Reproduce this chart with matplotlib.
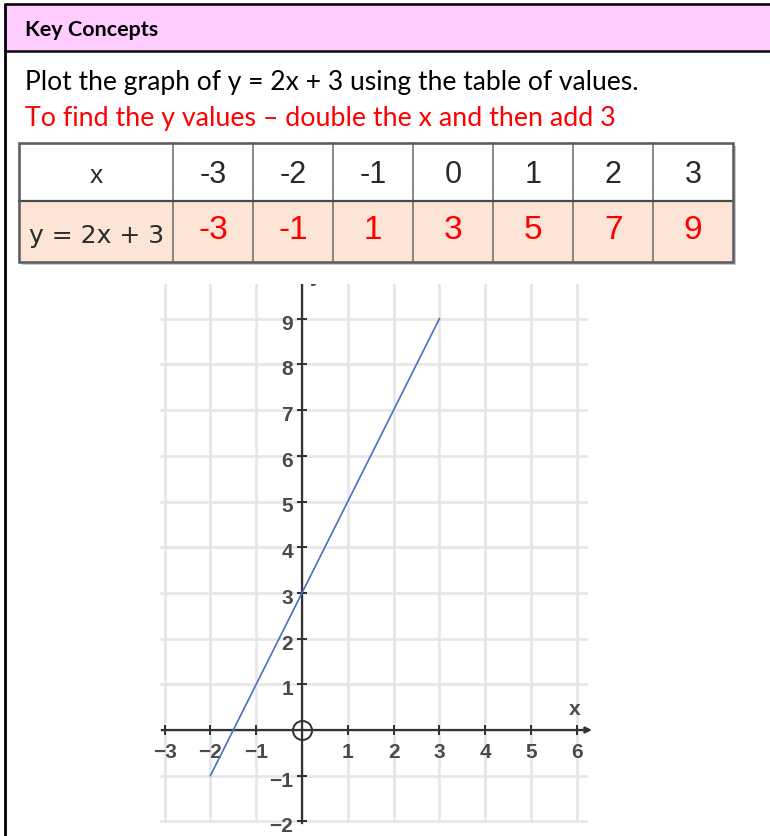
import numpy as np
import matplotlib
matplotlib.use("Agg")
import matplotlib.pyplot as plt
from matplotlib.patches import Rectangle

# Table of values for y = 2x + 3
x_values = [-3, -2, -1, 0, 1, 2, 3]
y_values = [-3, -1, 1, 3, 5, 7, 9]
row_labels = ["x", "y = 2x + 3"]

# Points joined by the plotted line
line_x = [-2, -1, 0, 1, 2, 3]
line_y = [-1, 1, 3, 5, 7, 9]

# Numbers written along the axes
x_tick_values = [-3, -2, -1, 1, 2, 3, 4, 5, 6]
y_tick_values = [-2, -1, 1, 2, 3, 4, 5, 6, 7, 8, 9, 10]

title_text = "Key Concepts"
instruction = "Plot the graph of y = 2x + 3 using the table of values."
hint = "To find the y values \u2013 double the x and then add 3"

W, H, DPI = 770, 837, 100
PT = 72.0 / DPI  # points per pixel

fig = plt.figure(figsize=(W / DPI, H / DPI), dpi=DPI)
fig.patch.set_facecolor("white")

# Page layer in pixel coordinates (origin top-left)
page = fig.add_axes([0, 0, 1, 1])
page.set_xlim(0, W)
page.set_ylim(H, 0)
page.axis("off")

# Header band and frame
page.add_patch(Rectangle((5, 5), W, 47, facecolor="#FFCCFF", edgecolor="none", zorder=1))
page.plot([5, W], [5.3, 5.3], color="black", lw=2.6 * PT, zorder=3, solid_capstyle="butt")
page.plot([5, W], [52.3, 52.3], color="#111111", lw=2.6 * PT, zorder=3, solid_capstyle="butt")
page.plot([5.2, 5.2], [4, H], color="black", lw=2.8 * PT, zorder=3, solid_capstyle="butt")

renderer = fig.canvas.get_renderer()


def fitted_text(x, y, s, target_w, **kw):
    t = page.text(x, y, s, fontsize=20, **kw)
    w = t.get_window_extent(renderer).width
    t.set_fontsize(20 * target_w / w)
    return t


fitted_text(25, 36, title_text, 133, family="Lato", fontweight="bold",
            color="black", va="baseline", zorder=4)
fitted_text(25, 90, instruction, 615, family="Lato", color="black",
            va="baseline", zorder=4)
fitted_text(25, 126, hint, 592, family="Lato", color="#FF0000",
            va="baseline", zorder=4)

# Table of values
tl, tr = 19, 733
ttop, tmid, tbot = 144, 202, 263
col_edges = [tl] + list(np.linspace(173, tr, len(x_values) + 1))

page.add_patch(Rectangle((tl + 2.5, ttop + 2.5), tr - tl, tbot - ttop,
                         facecolor="#c9c9c9", edgecolor="none", zorder=1))
page.add_patch(Rectangle((tl, ttop), tr - tl, tmid - ttop,
                         facecolor="white", edgecolor="none", zorder=2))
page.add_patch(Rectangle((tl, tmid), tr - tl, tbot - tmid,
                         facecolor="#FCE4D6", edgecolor="none", zorder=2))
for cx in col_edges[1:-1]:
    page.plot([cx, cx], [ttop, tbot], color="#7d7d7d", lw=1.8 * PT, zorder=3)
page.plot([tl, tr], [tmid, tmid], color="#4a4a4a", lw=2.2 * PT, zorder=3)
page.add_patch(Rectangle((tl, ttop), tr - tl, tbot - ttop, facecolor="none",
                         edgecolor="#5f5f5f", lw=2.6 * PT, zorder=4))

first_cx = (col_edges[0] + col_edges[1]) / 2
page.text(first_cx, 176, row_labels[0], family="Liberation Sans", fontsize=19,
          color="#2a2a2a", ha="center", va="center", zorder=5)
page.text(first_cx + 1, 236, row_labels[1], family="DejaVu Sans", fontsize=18,
          color="#2a2a2a", ha="center", va="center", zorder=5)
for i, (xv, yv) in enumerate(zip(x_values, y_values)):
    cx = (col_edges[i + 1] + col_edges[i + 2]) / 2
    page.text(cx, 175, f"{xv}", family="Liberation Sans", fontsize=22,
              color="#2a2a2a", ha="center", va="center", zorder=5)
    page.text(cx, 230, f"{yv}", family="Liberation Sans", fontsize=24,
              color="#FF0000", ha="center", va="center", zorder=5)

# Coordinate grid
ux, uy = 45.8, 45.7        # pixels per unit
ox, oy = 302.0, 731.0      # pixel position of the origin
xmin, xmax = -3.6, 6.6
ymin = -2.3
top_px = 285.0
ymax = (oy - top_px) / uy
left_px = ox + xmin * ux
right_px = ox + xmax * ux
bot_px = oy - ymin * uy

ax = fig.add_axes([left_px / W, 1 - bot_px / H,
                   (right_px - left_px) / W, (bot_px - top_px) / H])
ax.set_xlim(xmin, xmax)
ax.set_ylim(ymin, ymax)
ax.axis("off")

grid_c = "#e6e6e6"
for gx in range(-3, 7):
    ax.plot([gx, gx], [-2, ymax + 1], color=grid_c, lw=2.6 * PT, zorder=1)
for gy in range(-2, 11):
    ax.plot([-3.07, 6.2], [gy, gy], color=grid_c, lw=2.6 * PT, zorder=1)

axis_c = "#333333"
ax.plot([-3.05, 6.25], [0, 0], color=axis_c, lw=2.2 * PT, zorder=3)
ax.annotate("", xy=(6.33, 0), xytext=(6.1, 0),
            arrowprops=dict(arrowstyle="-|>", color=axis_c, lw=2.2 * PT,
                            mutation_scale=9, shrinkA=0, shrinkB=0), zorder=3)
ax.plot([0, 0], [-2.03, ymax + 1], color=axis_c, lw=2.2 * PT, zorder=3)

ax.plot(x_tick_values, [0] * len(x_tick_values), ls="none", marker="|",
        ms=10 * PT, mew=2.0 * PT, color=axis_c, zorder=3)
ax.plot([0] * len(y_tick_values), y_tick_values, ls="none", marker="_",
        ms=10 * PT, mew=2.0 * PT, color=axis_c, zorder=3, clip_on=True)
ax.plot(0, 0, marker="o", ms=19 * PT, mfc="none", mec=axis_c, mew=2.0 * PT, zorder=4)
ax.plot(0, 0, marker="+", ms=13 * PT, mew=1.6 * PT, color=axis_c, zorder=4)


def signed(v):
    return f"\u2212{abs(v)}" if v < 0 else f"{v}"


lab_c = "#4a4a4a"
for v in x_tick_values:
    ax.text(v, -22 / uy, signed(v), family="Liberation Sans", fontsize=15,
            fontweight="bold", color=lab_c, ha="center", va="center", zorder=4)
for v in y_tick_values:
    ax.text(-9 / ux, v - 4.5 / uy, signed(v), family="Liberation Sans",
            fontsize=15, fontweight="bold", color=lab_c, ha="right",
            va="center", zorder=4, clip_on=True)
ax.text(5.96, 0.46, "x", family="Liberation Sans", fontsize=15,
        fontweight="bold", color=lab_c, ha="center", va="center", zorder=4)
ax.text(0.3, 9.95, "y", family="Liberation Sans", fontsize=15,
        fontweight="bold", color=lab_c, ha="center", va="center", zorder=4,
        clip_on=True)

ax.plot(line_x, line_y, color="#4472C4", lw=1.2, zorder=5)

fig.savefig("out.png", dpi=DPI, facecolor="white")
